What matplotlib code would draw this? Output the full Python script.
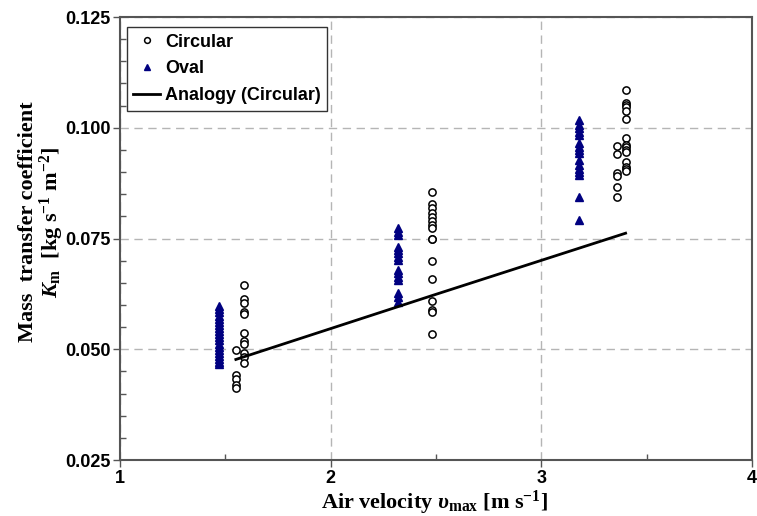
import matplotlib
matplotlib.use("Agg")
import matplotlib.pyplot as plt
from matplotlib.ticker import MultipleLocator

plt.rcParams['mathtext.fontset'] = 'custom'
plt.rcParams['mathtext.rm'] = 'Liberation Serif:bold'
plt.rcParams['mathtext.it'] = 'Liberation Serif:italic:bold'
plt.rcParams['mathtext.bf'] = 'Liberation Serif:bold'

# Circular tube data
circ_v = [1.59, 1.59, 1.59, 1.59, 1.59, 1.59, 1.59, 1.59, 1.55, 1.59, 1.59, 1.59,
          1.55, 1.55, 1.55, 1.55,
          2.48, 2.48, 2.48, 2.48, 2.48, 2.48, 2.48, 2.48, 2.48, 2.48, 2.48, 2.48,
          2.48, 2.48, 2.48, 2.48,
          3.40, 3.40, 3.40, 3.40, 3.40, 3.40, 3.40, 3.40, 3.40, 3.40, 3.40, 3.40,
          3.40, 3.40, 3.40,
          3.36, 3.36, 3.36, 3.36, 3.36, 3.36]
circ_km = [0.0645, 0.0613, 0.0605, 0.0585, 0.0580, 0.0537, 0.0519, 0.0512, 0.0498,
           0.0491, 0.0482, 0.0468, 0.0442, 0.0434, 0.0419, 0.0412,
           0.0856, 0.0828, 0.0820, 0.0807, 0.0798, 0.0790, 0.0780, 0.0773, 0.0750,
           0.0748, 0.0700, 0.0658, 0.0610, 0.0589, 0.0583, 0.0534,
           0.1085, 0.1055, 0.1051, 0.1047, 0.1038, 0.1019, 0.0978, 0.0961, 0.0956,
           0.0950, 0.0946, 0.0923, 0.0911, 0.0906, 0.0903,
           0.0959, 0.0941, 0.0897, 0.0891, 0.0867, 0.0843]

# Oval tube data
oval_v = [1.47] * 20 + [2.32] * 15 + [3.18] * 16
oval_km = [0.0597, 0.0590, 0.0583, 0.0576, 0.0569, 0.0562, 0.0555, 0.0548, 0.0541,
           0.0534, 0.0527, 0.0520, 0.0513, 0.0506, 0.0499, 0.0492, 0.0485, 0.0478,
           0.0471, 0.0466,
           0.0774, 0.0765, 0.0758, 0.0731, 0.0724, 0.0717, 0.0708, 0.0701, 0.0679,
           0.0672, 0.0663, 0.0656, 0.0627, 0.0618, 0.0607,
           0.1018, 0.1006, 0.0999, 0.0991, 0.0984, 0.0965, 0.0957, 0.0950, 0.0942,
           0.0927, 0.0916, 0.0908, 0.0901, 0.0893, 0.0844, 0.0792]

# Analogy (circular)
anal_v = [1.55, 2.48, 3.40]
anal_km = [0.0477, 0.0621, 0.0762]

x_ticks = [1, 2, 3, 4]
y_ticks = [0.025, 0.050, 0.075, 0.100, 0.125]

fig = plt.figure(figsize=(7.57, 5.16), dpi=100)
ax = fig.add_axes([0.1585, 0.1085, 0.8349, 0.8585])

ax.plot(circ_v, circ_km, 'o', mfc='white', mec='black', mew=1.1, ms=5.2,
        ls='none', label='Circular', zorder=3)
ax.plot(oval_v, oval_km, '^', color='#000080', ms=6, ls='none', label='Oval', zorder=3)
ax.plot(anal_v, anal_km, '-', color='black', lw=2, label='Analogy (Circular)', zorder=4)

ax.set_xlim(1, 4)
ax.set_ylim(0.025, 0.125)
ax.set_xticks(x_ticks)
ax.set_yticks(y_ticks)
ax.set_xticklabels([str(t) for t in x_ticks])
ax.set_yticklabels([f"{t:.3f}" for t in y_ticks])
ax.xaxis.set_minor_locator(MultipleLocator(0.5))
ax.yaxis.set_minor_locator(MultipleLocator(0.005))
ax.tick_params(which='major', direction='out', length=5, width=1, color='#555555',
               labelsize=13, pad=2)
ax.tick_params(which='minor', direction='in', length=4, width=1, color='#555555')
for lab in ax.get_xticklabels() + ax.get_yticklabels():
    lab.set_fontfamily('Liberation Sans')
    lab.set_fontweight('bold')

for s in ax.spines.values():
    s.set_color('#555555')
    s.set_linewidth(1.5)

ax.grid(True, which='major', ls=(0, (6, 4)), color='#b5b5b5', lw=1)
ax.set_axisbelow(True)

ax.set_xlabel(r"Air velocity $\upsilon_{\mathrm{max}}$ [m s$^{-1}$]",
              fontfamily='Liberation Serif', fontweight='bold', fontsize=16, va='top')
ax.xaxis.set_label_coords(0.498, -0.066)
ax.set_ylabel("Mass  transfer coefficient\n" + r"$K_{\mathrm{m}}$  [kg s$^{-1}$ m$^{-2}$]",
              fontfamily='Liberation Serif', fontweight='bold', fontsize=16,
              linespacing=1.0)
ax.yaxis.set_label_coords(-0.085, 0.537)

leg = ax.legend(loc='upper left', bbox_to_anchor=(0.011, 0.977), borderaxespad=0,
                frameon=True, fancybox=False, edgecolor='#333333', framealpha=1,
                prop={'family': 'Liberation Sans', 'weight': 'bold', 'size': 13},
                borderpad=0.35, labelspacing=0.55, handlelength=1.5, handletextpad=0.25,
                markerscale=0.8)
leg.get_frame().set_linewidth(1)

fig.savefig('out.png', dpi=100)
